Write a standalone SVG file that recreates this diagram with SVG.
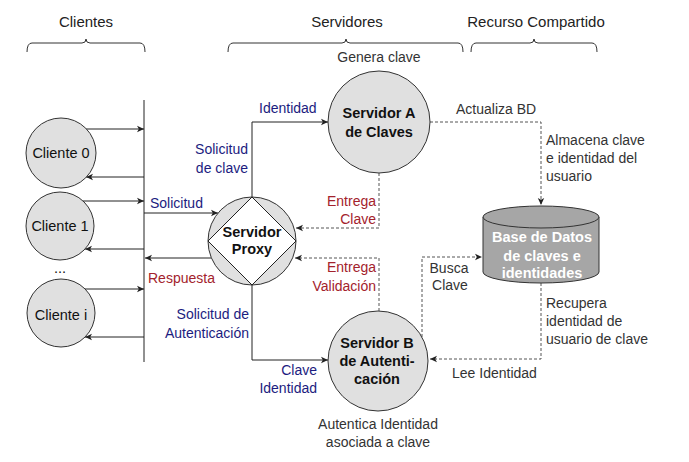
<svg xmlns="http://www.w3.org/2000/svg" width="689" height="462" viewBox="0 0 689 462">
<defs>
<style>
text{font-family:"Liberation Sans",Arial,sans-serif;font-size:14px;}
.hdr{font-size:15px;fill:#222;text-anchor:middle}
.node{fill:#e0e0e0;stroke:#333;stroke-width:1}
.nt{font-weight:bold;fill:#111;text-anchor:middle;font-size:14.5px}
.ct{fill:#111;text-anchor:middle;font-size:14.5px}
.dbt{font-weight:bold;fill:#fff;text-anchor:middle;font-size:14.5px}
.blue{fill:#1c1c80}
.red{fill:#a3222c}
.gray{fill:#333}
.brace{fill:none;stroke:#333;stroke-width:1}
.solid{fill:none;stroke:#222;stroke-width:1}
.dash{fill:none;stroke:#555;stroke-width:1;stroke-dasharray:3 2}
.end{text-anchor:end}
.mid{text-anchor:middle}
</style>
<marker id="ah" markerWidth="8" markerHeight="8" refX="7" refY="4" orient="auto" markerUnits="userSpaceOnUse">
<path d="M0,0.8 L7,4 L0,7.2 L1.8,4 Z" fill="#222"/>
</marker>
</defs>
<rect width="689" height="462" fill="#fff"/>

<g id="headers">
<text class="hdr" x="86" y="27">Clientes</text>
<path class="brace" d="M27,52 Q27,43 32,43 L82,43 Q86,43 86,39 Q86,43 90,43 L140,43 Q145,43 145,52"/>
<text class="hdr" x="347" y="27">Servidores</text>
<path class="brace" d="M228,52 Q228,43 233,43 L342,43 Q346,43 346,39 Q346,43 350,43 L458,43 Q463,43 463,52"/>
<text class="hdr" x="536" y="27">Recurso Compartido</text>
<path class="brace" d="M471,52 Q471,43 476,43 L530,43 Q534,43 534,39 Q534,43 538,43 L592,43 Q597,43 597,52"/>
</g>

<g id="connectors">
<line class="solid" x1="144" y1="100" x2="144" y2="362"/>
<path class="solid" d="M86,129 L144,129" marker-end="url(#ah)"/>
<path class="solid" d="M144,177 L86,177" marker-end="url(#ah)"/>
<path class="solid" d="M83,201 L144,201" marker-end="url(#ah)"/>
<path class="solid" d="M144,249 L85,249" marker-end="url(#ah)"/>
<path class="solid" d="M85,289 L144,289" marker-end="url(#ah)"/>
<path class="solid" d="M144,337 L85,337" marker-end="url(#ah)"/>
<path class="solid" d="M144,213 L218,213" marker-end="url(#ah)"/>
<path class="solid" d="M211,258 L145,258" marker-end="url(#ah)"/>
<path class="solid" d="M252,197 L252,122 L328,122" marker-end="url(#ah)"/>
<path class="solid" d="M252,285 L252,360 L328,360" marker-end="url(#ah)"/>
<path class="dash" d="M430,122 L541,122 L541,205" marker-end="url(#ah)"/>
<path class="dash" d="M379,173 L379,228 L296,228" marker-end="url(#ah)"/>
<path class="dash" d="M379,311 L379,258 L295,258" marker-end="url(#ah)"/>
<path class="dash" d="M422,337 L422,257 L482,257" marker-end="url(#ah)"/>
<path class="dash" d="M541,283 L541,359 L430,359" marker-end="url(#ah)"/>
</g>

<g id="labels">
<text class="gray mid" x="379" y="62">Genera clave</text>
<text class="blue" x="259" y="113">Identidad</text>
<text class="blue end" x="248" y="154">Solicitud</text>
<text class="blue end" x="248" y="173">de clave</text>
<text class="blue" x="150" y="208">Solicitud</text>
<text class="red" x="148" y="283">Respuesta</text>
<text class="blue end" x="249" y="319">Solicitud de</text>
<text class="blue end" x="249" y="338">Autenticación</text>
<text class="blue end" x="317" y="375">Clave</text>
<text class="blue end" x="317" y="393">Identidad</text>
<text class="red end" x="376" y="206">Entrega</text>
<text class="red end" x="376" y="224">Clave</text>
<text class="red end" x="376" y="272">Entrega</text>
<text class="red end" x="376" y="291">Validación</text>
<text class="gray" x="456" y="114">Actualiza BD</text>
<text class="gray" x="546" y="145">Almacena clave</text>
<text class="gray" x="546" y="163">e identidad del</text>
<text class="gray" x="546" y="181">usuario</text>
<text class="gray mid" x="449" y="273">Busca</text>
<text class="gray mid" x="450" y="290">Clave</text>
<text class="gray" x="546" y="308">Recupera</text>
<text class="gray" x="546" y="326">identidad de</text>
<text class="gray" x="546" y="344">usuario de clave</text>
<text class="gray" x="452" y="378">Lee Identidad</text>
<text class="gray mid" x="378" y="429">Autentica Identidad</text>
<text class="gray mid" x="378" y="447">asociada a clave</text>
<text class="ct" x="60" y="273">...</text>
</g>

<g id="cliente0">
<circle class="node" cx="61" cy="153" r="35"/>
<text class="ct" x="61" y="158">Cliente 0</text>
</g>
<g id="cliente1">
<circle class="node" cx="60" cy="226" r="34"/>
<text class="ct" x="60" y="231">Cliente 1</text>
</g>
<g id="clientei">
<circle class="node" cx="61" cy="313" r="34"/>
<text class="ct" x="61" y="320">Cliente i</text>
</g>

<g id="proxy">
<circle class="node" cx="252" cy="241" r="44"/>
<path d="M252,197 L296,241 L252,285 L208,241 Z" fill="#fff" stroke="#222" stroke-width="1"/>
<text class="nt" x="252" y="237">Servidor</text>
<text class="nt" x="252" y="254">Proxy</text>
</g>

<g id="servidorA">
<circle class="node" cx="379" cy="122" r="51"/>
<text class="nt" x="379" y="118">Servidor A</text>
<text class="nt" x="379" y="137">de Claves</text>
</g>

<g id="servidorB">
<circle class="node" cx="378" cy="361" r="50"/>
<text class="nt" x="377" y="348">Servidor B</text>
<text class="nt" x="377" y="366">de Autenti-</text>
<text class="nt" x="377" y="384">cación</text>
</g>

<g id="basedatos">
<path d="M483,217 L483,272 A58,11 0 0 0 599,272 L599,217" fill="#a6a6a6" stroke="#333" stroke-width="1"/>
<ellipse cx="541" cy="217" rx="58" ry="11" fill="#a6a6a6" stroke="#333" stroke-width="1"/>
<text class="dbt" x="542" y="242">Base de Datos</text>
<text class="dbt" x="542" y="261">de claves e</text>
<text class="dbt" x="542" y="278">identidades</text>
</g>
</svg>
